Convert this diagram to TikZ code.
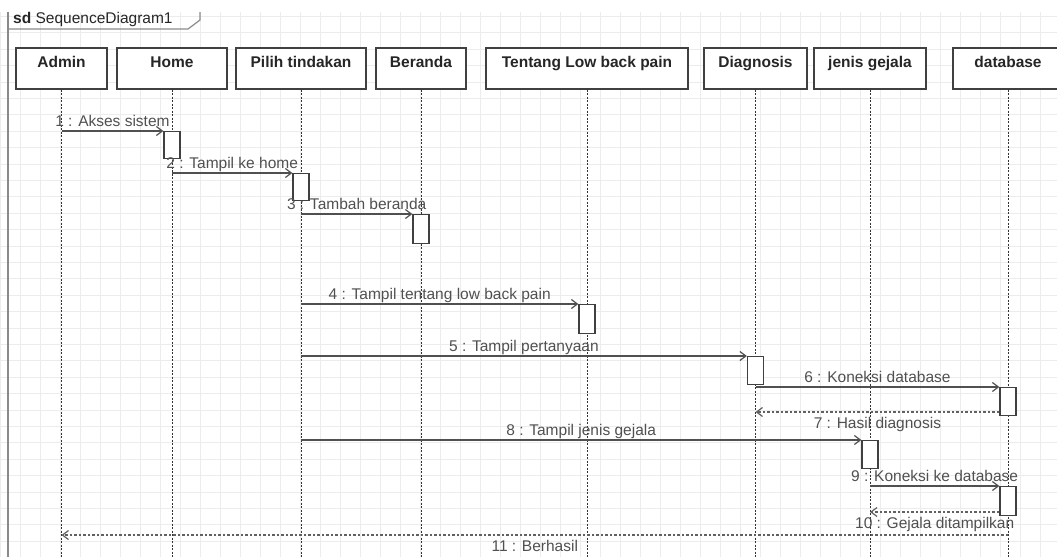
\documentclass[tikz,border=0pt]{standalone}
\usepackage{fontspec}
\setmainfont{Liberation Sans}
\usetikzlibrary{arrows.meta,calc}
\definecolor{gridc}{HTML}{ECECEC}
\definecolor{boxc}{HTML}{404040}
\definecolor{txtc}{HTML}{262626}
\definecolor{msgc}{HTML}{505050}
\definecolor{lifec}{HTML}{333333}
\definecolor{framec}{HTML}{8A8A8A}

\begin{document}
\begin{tikzpicture}[x=1pt,y=-1pt,
  font=\fontsize{15.5}{18}\selectfont,
  head/.style={draw=boxc, line width=1.3pt, fill=white, minimum height=41pt,
    inner sep=0pt, text height=11pt, text depth=13pt,
    font=\fontsize{15.5}{18}\selectfont\bfseries, text=txtc},
  act/.style={draw=boxc, line width=1.3pt, fill=white, minimum width=16pt,
    inner sep=0pt, anchor=north},
  lifeline/.style={draw=lifec, line width=1pt, dash pattern=on 2pt off 1.5pt},
  msg/.style={draw=msgc, line width=1.2pt, -{Straight Barb[length=6pt,width=9pt]}},
  ret/.style={draw=msgc!90, line width=1.2pt, dash pattern=on 2.5pt off 2pt,
    -{Straight Barb[length=6pt,width=9pt]}},
  lblup/.style={text=msgc, inner sep=0pt, anchor=base, yshift=4.5pt},
  lbldown/.style={text=msgc, inner sep=0pt, anchor=base, yshift=-16pt}
]
\useasboundingbox (0,0) rectangle (1057,557);
\clip (0,0) rectangle (1057,557);

% background grid
\draw[gridc, line width=0.7pt, xstep=20pt, ystep=16.4pt] (0,12) grid (1057,557);

% frame with its name tab
\draw[framec, line width=1.2pt] (8,557) -- (8,12);
\draw[framec, line width=1.2pt] (8,29) -- (188,29) -- (200,20) -- (200,12);
\node[anchor=west, inner sep=0pt, text=txtc] (sdtitle) at (13,19)
  {\textbf{sd} SequenceDiagram1};

% lifeline heads
\node[head, minimum width=91pt]  (admin)     at (61.5,68.5) {Admin};
\node[head, minimum width=110pt] (home)      at (172,68.5)  {Home};
\node[head, minimum width=130pt] (pilih)     at (301,68.5)  {Pilih tindakan};
\node[head, minimum width=90pt]  (beranda)   at (421,68.5)  {Beranda};
\node[head, minimum width=202pt] (tentang)   at (587,68.5)  {Tentang Low back pain};
\node[head, minimum width=103pt] (diagnosis) at (755.5,68.5){Diagnosis};
\node[head, minimum width=112pt] (jenis)     at (870,68.5)  {jenis gejala};
\node[head, minimum width=110pt] (database)  at (1008,68.5) {database};

% lifelines
\foreach \h in {admin,home,pilih,beranda,tentang,diagnosis,jenis,database}
  \draw[lifeline] (\h.south) -- (\h.south |- 0,560);

% activation bars
\node[act, minimum height=27pt] (a1) at (home.south |- 0,131) {};
\node[act, minimum height=27pt] (a2) at (pilih.south |- 0,173) {};
\node[act, minimum height=29pt] (a3) at (beranda.south |- 0,214) {};
\node[act, minimum height=29pt] (a4) at (tentang.south |- 0,304) {};
\node[act, minimum height=28pt] (a5) at (diagnosis.south |- 0,356) {};
\node[act, minimum height=28pt] (a6) at (database.south |- 0,387) {};
\node[act, minimum height=28pt] (a7) at (jenis.south |- 0,440) {};
\node[act, minimum height=29pt] (a8) at (database.south |- 0,486) {};

% messages
\draw[msg] (admin.south |- a1.north) -- node[lblup] {1 : Akses sistem} (a1.north west);
\draw[msg] (home.south |- a2.north) -- node[lblup] {2 : Tampil ke home} (a2.north west);
\draw[msg] (pilih.south |- a3.north) -- node[lblup] {3 : Tambah beranda} (a3.north west);
\draw[msg] (pilih.south |- a4.north) -- node[lblup] {4 : Tampil tentang low back pain} (a4.north west);
\draw[msg] (pilih.south |- a5.north) -- node[lblup] {5 : Tampil pertanyaan} (a5.north west);
\draw[msg] (diagnosis.south |- a6.north) -- node[lblup] {6 : Koneksi database} (a6.north west);
\draw[ret] (a6.west |- 0,412) -- node[lbldown] {7 : Hasil diagnosis} (diagnosis.south |- 0,412);
\draw[msg] (pilih.south |- a7.north) -- node[lblup] {8 : Tampil jenis gejala} (a7.north west);
\draw[msg] (jenis.south |- a8.north) -- node[lblup] {9 : Koneksi ke database} (a8.north west);
\draw[ret] (a8.west |- 0,512) -- node[lbldown] {10 : Gejala ditampilkan} (jenis.south |- 0,512);
\draw[ret] (database.south |- 0,535) -- node[lbldown] {11 : Berhasil} (admin.south |- 0,535);
\end{tikzpicture}
\end{document}
